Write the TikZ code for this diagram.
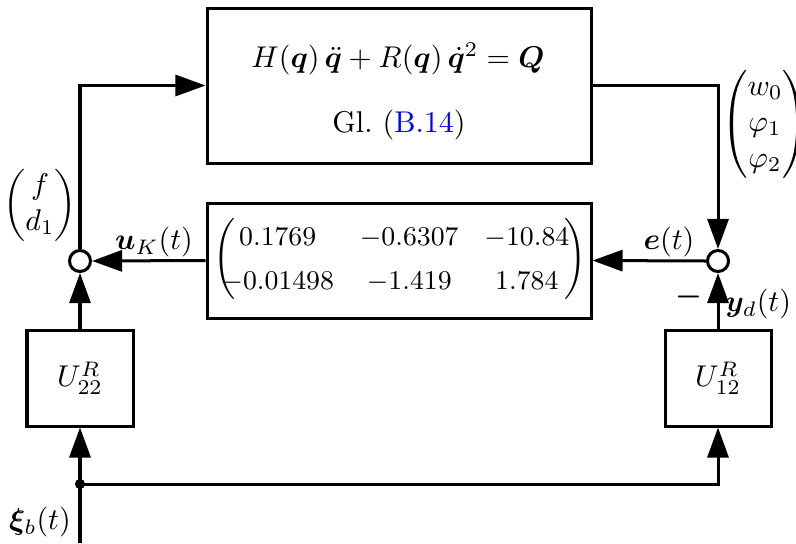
\documentclass[tikz,border=0pt]{standalone}
\usepackage{amsmath,bm}
\usetikzlibrary{arrows.meta}
\newdimen\pxu
\pxu=0.333pt
\begin{document}
\begin{tikzpicture}[x=\pxu,y=-\pxu,
  blockbox/.style={draw, line width=1pt, inner sep=0pt},
  sumnode/.style={circle, draw, fill=white, line width=1pt, inner sep=0pt, minimum size=7pt},
  dotnode/.style={circle, fill=black, inner sep=0pt, minimum size=3.4pt},
  conn/.style={line width=1pt},
  arr/.style={conn, -{Triangle[length=10pt,width=7pt]}},
  lbl/.style={inner sep=0pt}]
\useasboundingbox (0,0) rectangle (796,543);

% blocks
\node[blockbox, minimum width=384*\pxu, minimum height=155*\pxu] (plant) at (399,85.5) {};
\node[lbl] (eq) at (398,59) {$H(\bm{q})\,\ddot{\bm{q}} + R(\bm{q})\,\dot{\bm{q}}^2 = \bm{Q}$};
\node[lbl] (gl) at (399,125) {Gl.~(\textcolor{blue}{B.14})};

\node[blockbox, minimum width=384*\pxu, minimum height=115*\pxu] (ctrl) at (399,260.5) {};
\node[lbl] (mat) at (400,259) {\small\setlength{\arraycolsep}{4.3pt}\renewcommand{\arraystretch}{1.33}$\left(\mkern-9mu\begin{matrix}
 0.1769 & -0.6307 & -10.84\\
 -0.01498 & -1.419 & 1.784
\end{matrix}\mkern-3mu\right)$};

\node[blockbox, minimum width=106*\pxu, minimum height=96*\pxu] (U22) at (80,378) {$U_{22}^{R}$};
\node[blockbox, minimum width=106*\pxu, minimum height=96*\pxu] (U12) at (718,378) {$U_{12}^{R}$};

% summing points and branch
\node[sumnode] (sumL) at (80,261) {};
\node[sumnode] (sumR) at (718,261) {};
\node[dotnode] (split) at (80,484) {};
\coordinate (xiin) at (80,543);

% connectors
\draw[arr] (sumL.north) |- (plant.west);
\draw[arr] (plant.east) -| (sumR.north);
\draw[arr] (sumR.west) -- (ctrl.east);
\draw[arr] (ctrl.west) -- (sumL.east);
\draw[arr] (U22.north) -- (sumL.south);
\draw[arr] (U12.north) -- (sumR.south);
\draw[conn] (xiin) -- (split.center);
\draw[arr] (split.center) -- (U22.south);
\draw[arr] (split.center) -| (U12.south);

% labels
\node[lbl] (fd) at (40,205) {$\begin{pmatrix} f\\ d_1\end{pmatrix}$};
\node[lbl] (wphi) at (765,124) {$\begin{pmatrix} w_0\\ \varphi_1\\ \varphi_2\end{pmatrix}$};
\node[lbl] (uK) at (154,242) {$\bm{u}_K(t)$};
\node[lbl] (et) at (669,242) {$\bm{e}(t)$};
\node[lbl] (minus) at (689,297) {$\bm{-}$};
\node[lbl] (yd) at (758,304) {$\bm{y}_d(t)$};
\node[lbl] (xi) at (40,522) {$\bm{\xi}_b(t)$};
\end{tikzpicture}
\end{document}
